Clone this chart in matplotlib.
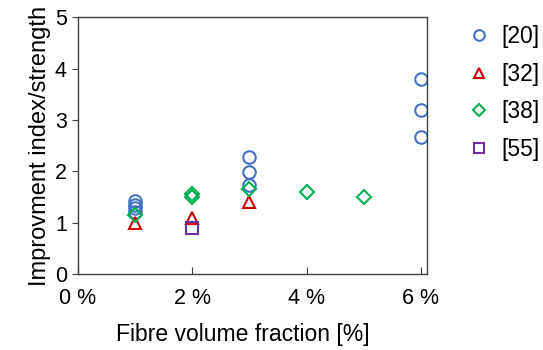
import matplotlib
matplotlib.use("Agg")
import matplotlib.pyplot as plt
from matplotlib.ticker import FuncFormatter

plt.rcParams['font.family'] = ['Liberation Sans', 'DejaVu Sans']

series_labels = ["[20]", "[32]", "[38]", "[55]"]
x20 = [1, 1, 1, 1, 3, 3, 3, 6, 6, 6]
y20 = [1.42, 1.35, 1.28, 1.21, 2.28, 1.99, 1.74, 3.80, 3.20, 2.66]
x32 = [1, 2, 3]
y32 = [1.0, 1.1, 1.4]
x38 = [1, 2, 2, 3, 4, 5]
y38 = [1.15, 1.56, 1.50, 1.66, 1.59, 1.50]
x55 = [2]
y55 = [0.9]
x_ticks = [0, 2, 4, 6]
y_ticks = [0, 1, 2, 3, 4, 5]

fig = plt.figure(figsize=(5.43, 3.5), dpi=100)
ax = fig.add_axes([0.1436, 0.217, 0.643, 0.734])

ms = 9
mew = 1.5
ax.plot(x20, y20, 'o', ms=ms, mfc='none', mec='#4472C4', mew=mew, label=series_labels[0], ls='none')
ax.plot(x32, y32, '^', ms=ms, mfc='none', mec='#D00000', mew=mew, label=series_labels[1], ls='none')
ax.plot(x38, y38, 'D', ms=7, mfc='none', mec='#00B050', mew=mew, label=series_labels[2], ls='none')
ax.plot(x55, y55, 's', ms=ms, mfc='none', mec='#7030A0', mew=mew, label=series_labels[3], ls='none')

ax.set_xlim(0, 6.11)
ax.set_ylim(0, 5)
ax.set_xticks(x_ticks)
ax.set_yticks(y_ticks)
ax.xaxis.set_major_formatter(FuncFormatter(lambda v, p: f"{int(v)} %"))
ax.tick_params(axis='x', direction='in', length=5, labelsize=15.5, pad=10, color='#404040')
ax.tick_params(axis='y', direction='out', length=4, labelsize=15.5, pad=4, color='#404040')
for s in ax.spines.values():
    s.set_color('#404040')
    s.set_linewidth(1.0)

ax.set_xlabel("Fibre volume fraction [%]", fontsize=16.5, labelpad=11)
ax.xaxis.set_label_coords(0.473, -0.19)
ax.set_ylabel("Improvment index/strength", fontsize=17, labelpad=3)

ax.legend(loc='upper left', bbox_to_anchor=(1.05, 1.05), frameon=False, fontsize=16.5,
          handletextpad=0.4, labelspacing=0.64, markerscale=0.85, handlelength=1.2)

fig.savefig("out.png", dpi=100)
